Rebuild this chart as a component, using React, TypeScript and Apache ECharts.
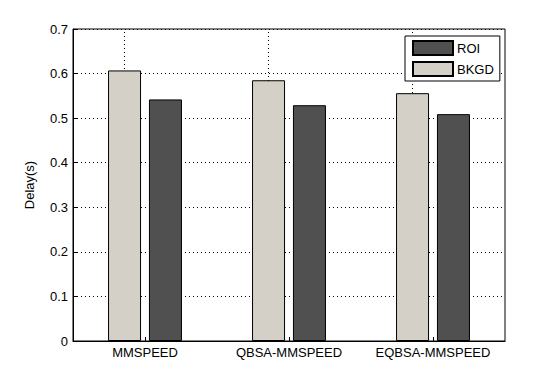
import React, { useEffect, useRef } from "react";
import * as echarts from "echarts";

const categories = ["MMSPEED", "QBSA-MMSPEED", "EQBSA-MMSPEED"];
const roiValues = [0.542, 0.529, 0.509];
const bkgdValues = [0.607, 0.585, 0.556];
const yTicks = [0, 0.1, 0.2, 0.3, 0.4, 0.5, 0.6, 0.7];

const FONT = "Liberation Sans, Arial, sans-serif";

export default function App() {
  const ref = useRef<HTMLDivElement>(null);
  useEffect(() => {
    if (!ref.current) return;
    const chart = echarts.init(ref.current, null, { renderer: "svg" });
    const dotted = { color: "#000", type: [1, 3] as any, width: 1 };
    chart.setOption({
      animation: false,
      backgroundColor: "#fff",
      textStyle: { fontFamily: FONT },
      grid: {
        left: 73,
        top: 29,
        width: 432,
        height: 312,
        show: true,
        borderColor: "#000",
        borderWidth: 1,
        backgroundColor: "transparent",
      },
      legend: {
        orient: "vertical",
        left: 405,
        top: 36,
        padding: [4, 6, 4, 7],
        icon: "rect",
        itemWidth: 40,
        itemHeight: 14,
        itemGap: 5,
        borderColor: "#000",
        borderWidth: 1,
        backgroundColor: "#fff",
        data: ["ROI", "BKGD"],
        textStyle: { fontFamily: FONT, fontSize: 13, color: "#000", padding: [0, 0, 0, -1] },
      },
      xAxis: {
        type: "category",
        data: categories,
        axisLine: { lineStyle: { color: "#000" } },
        axisTick: { show: true, inside: true, alignWithLabel: true, interval: 0, length: 4, lineStyle: { color: "#000" } },
        axisLabel: { color: "#000", fontSize: 13, fontFamily: FONT, margin: 5, interval: 0, hideOverlap: false },
        splitLine: { show: false },
      },
      yAxis: {
        type: "value",
        min: 0,
        max: 0.7,
        interval: 0.1,
        name: "Delay(s)",
        nameLocation: "middle",
        nameGap: 37,
        nameTextStyle: { color: "#000", fontSize: 13, fontFamily: FONT },
        axisLine: { show: true, lineStyle: { color: "#000" } },
        axisTick: { show: true, inside: true, length: 4, lineStyle: { color: "#000" } },
        axisLabel: {
          color: "#000",
          fontSize: 13,
          fontFamily: FONT,
          margin: 5,
          formatter: (v: number) => {
            const t = yTicks.find((x) => Math.abs(x - v) < 1e-6);
            return t === undefined ? "" : String(Math.round(t * 10) / 10);
          },
        },
        splitLine: { show: true, lineStyle: dotted },
      },
      series: [
        {
          name: "BKGD",
          type: "bar",
          data: bkgdValues,
          barWidth: 33,
          barGap: "24%",
          z: 3,
          itemStyle: { color: "#d4d0c8", borderColor: "#000", borderWidth: 1 },
          markLine: {
            silent: true,
            symbol: "none",
            label: { show: false },
            lineStyle: dotted,
            z: 1,
            data: categories.map((c) => ({ xAxis: c })),
          },
        },
        {
          name: "ROI",
          type: "bar",
          data: roiValues,
          barWidth: 33,
          barGap: "24%",
          z: 3,
          itemStyle: { color: "#505050", borderColor: "#000", borderWidth: 1 },
        },
      ],
    });
    return () => chart.dispose();
  }, []);
  return <div ref={ref} style={{ width: 559, height: 383, position: "absolute", left: 0, top: 0 }} />;
}
